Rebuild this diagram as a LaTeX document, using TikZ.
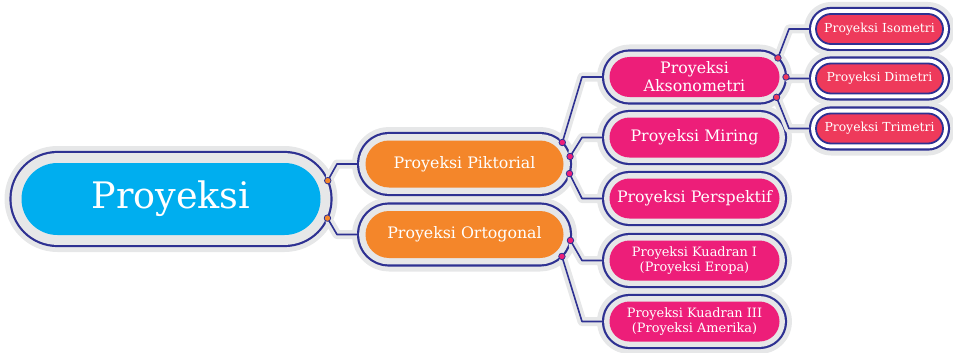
\documentclass[tikz,border=0pt]{standalone}
\usepackage{fontspec}
\setmainfont{DejaVu Serif}
\usetikzlibrary{calc}
\definecolor{navy}{HTML}{2E3192}
\definecolor{halo}{HTML}{E6E7E8}
\definecolor{biru}{HTML}{00AEEF}
\definecolor{jingga}{HTML}{F4862A}
\definecolor{magenta2}{HTML}{ED1E79}
\definecolor{merah}{HTML}{EE3A5B}
\begin{document}
\begin{tikzpicture}[x=1pt,y=-1pt,line join=round,line cap=round,
  pill/.style n args={5}{rectangle,inner sep=0pt,text=white,align=center,
    minimum width=#1,minimum height=#2,rounded corners=#2/2,outer sep=#3,fill=#4,
    preaction={draw=halo,line width=2*#3pt+12pt},
    preaction={draw=navy,line width=2*#3pt+2.2pt},
    preaction={draw=#5,line width=2*#3pt-2.2pt}},
  lvl0/.style={pill={299}{72}{11}{biru}{halo},font=\fontsize{36.5}{40}\selectfont},
  lvl1/.style={pill={198}{47}{7.5}{jingga}{halo},font=\fontsize{15.8}{18}\selectfont},
  lvl2/.style={pill={170}{40}{6.5}{magenta2}{halo},font=\fontsize{15.8}{18}\selectfont},
  lvl2s/.style={lvl2,font=\fontsize{12.9}{15}\selectfont},
  lvl3/.style={pill={127}{30}{6}{merah}{white},draw=navy,line width=1.8pt,font=\fontsize{12.4}{15}\selectfont},
  link/.style={draw=navy,line width=1.6pt,preaction={draw=halo,line width=9pt,shorten <=5pt,shorten >=5pt}},
  dot/.style={circle,draw=navy,line width=0.8pt,fill=#1,inner sep=0pt,minimum size=6.5pt}]
\useasboundingbox (0,0) rectangle (953,353);
% nodes
\foreach \n/\x/\y/\s/\t in {root/171/199/lvl0/Proyeksi,
  pik/464.5/164/lvl1/Proyeksi Piktorial, ort/464.5/234.5/lvl1/Proyeksi Ortogonal,
  aks/694.5/77/lvl2/{Proyeksi\\Aksonometri}, mir/694.5/137.5/lvl2/Proyeksi Miring,
  per/694.5/198.5/lvl2/Proyeksi Perspektif,
  kua/694.5/260.5/lvl2s/{Proyeksi Kuadran I\\(Proyeksi Eropa)},
  kub/694.5/321.5/lvl2s/{Proyeksi Kuadran III\\(Proyeksi Amerika)},
  iso/879.5/29/lvl3/Proyeksi Isometri, dim/879.5/78.5/lvl3/Proyeksi Dimetri,
  tri/879.5/128.5/lvl3/Proyeksi Trimetri}
\node[\s] (\n) at (\x,\y) {\t};
% connectors with dots on the parent
\foreach \p/\r/\a/\c/\k in {root/47/23/pik/jingga, root/47/-24/ort/jingga,
  pik/31/44/aks/magenta2, pik/31/14/mir/magenta2, pik/31/-18/per/magenta2,
  ort/31/-11/kua/magenta2, ort/31/-45/kub/magenta2,
  aks/26.5/46/iso/merah, aks/26.5/0/dim/merah, aks/26.5/-50/tri/merah}
{\coordinate (d-\c) at ($(\p.east)+(-\r,0)+(\a:\r pt)$);
 \draw[link] (d-\c) -- ($(\c.west)+(-21,0)$) -- (\c.west);
 \node[dot=\k] (dot-\c) at (d-\c) {};}
\end{tikzpicture}
\end{document}
